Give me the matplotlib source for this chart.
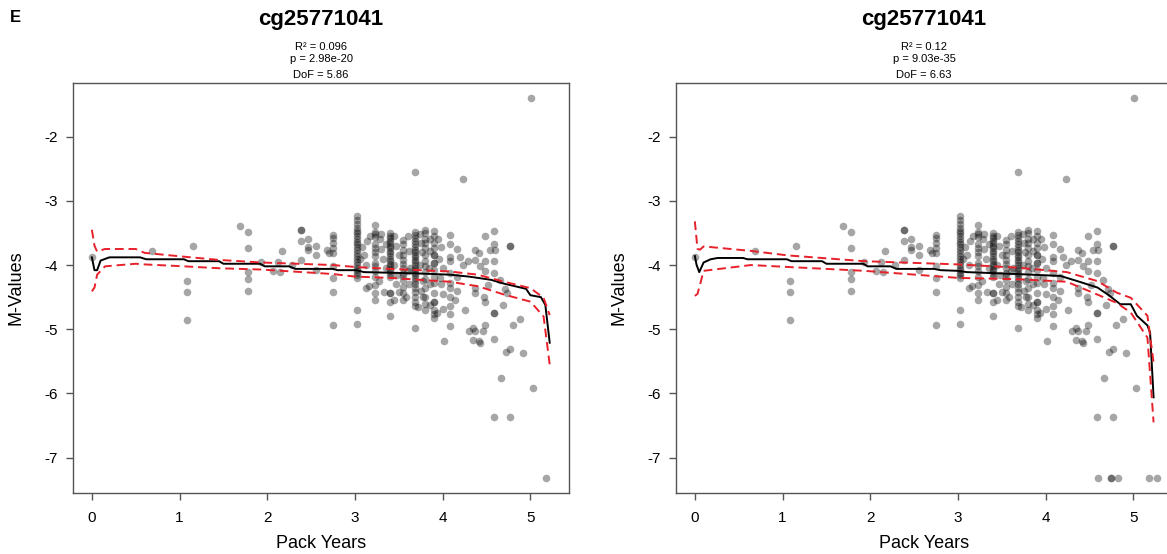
import matplotlib.pyplot as plt
import numpy as np

plt.rcParams['font.family'] = ['Liberation Sans', 'DejaVu Sans']
plt.rcParams['axes.unicode_minus'] = False

# titles / stats
probe = "cg25771041"
stats_left = ["R² = 0.096", "p = 2.98e-20", "DoF = 5.86"]
stats_right = ["R² = 0.12", "p = 9.03e-35", "DoF = 6.63"]

# dense columns of samples (log pack years)
col_x = [3.02, 3.23, 3.40, 3.55, 3.68, 3.80, 3.90, 4.08]
col_y = [
    [-3.24, -3.30, -3.36, -3.42, -3.47, -3.50, -3.55, -3.60, -3.64, -3.68, -3.72, -3.77,
     -3.82, -3.86, -3.90, -3.95, -4.00, -4.04, -4.08, -4.12, -4.16, -4.20, -4.70, -4.92],
    [-3.37, -3.48, -3.52, -3.56, -3.68, -3.74, -3.80, -3.86, -3.97, -4.02, -4.10, -4.18,
     -4.31, -4.44, -4.54],
    [-3.50, -3.54, -3.58, -3.62, -3.66, -3.70, -3.74, -3.78, -3.82, -3.86, -3.90, -3.94,
     -3.98, -4.02, -4.06, -4.10, -4.14, -4.18, -4.44, -4.44, -4.58, -4.79],
    [-3.61, -3.68, -3.76, -3.84, -3.92, -3.98, -4.05, -4.12, -4.17, -4.23, -4.34, -4.44, -4.54],
    [-2.55, -3.48, -3.53, -3.58, -3.63, -3.68, -3.72, -3.76, -3.80, -3.84, -3.88, -3.92,
     -3.96, -4.00, -4.04, -4.08, -4.12, -4.16, -4.20, -4.25, -4.30, -4.35, -4.42, -4.50,
     -4.57, -4.64, -4.98],
    [-3.45, -3.50, -3.60, -3.66, -3.74, -3.85, -3.94, -4.02, -4.11, -4.22, -4.35, -4.49,
     -4.60, -4.70],
    [-3.47, -3.55, -3.66, -3.74, -3.84, -3.84, -3.97, -3.97, -4.07, -4.18, -4.28, -4.44,
     -4.57, -4.57, -4.70, -4.77, -4.83],
    [-3.53, -3.68, -3.87, -3.94, -4.12, -4.28, -4.36, -4.49, -4.64, -4.77, -4.95],
]

# remaining scattered samples
other_x = [0.00, 0.68, 1.15, 1.08, 1.08, 1.08, 1.69, 1.78, 1.78, 1.78, 1.78, 1.78,
           1.93, 2.06, 2.12, 2.15, 2.17, 2.28, 2.38, 2.38, 2.38, 2.38, 2.46, 2.46, 2.46,
           2.55, 2.55, 2.55, 2.68, 2.70, 2.75, 2.75, 2.75, 2.75, 2.75, 2.75, 2.75, 2.75, 2.75,
           3.08, 3.10, 3.12, 3.12, 3.16, 3.17, 3.06, 3.14,
           3.28, 3.30, 3.32, 3.35, 3.33, 3.30, 3.35, 3.27,
           3.45, 3.47, 3.45, 3.48, 3.50, 3.47, 3.50, 3.44,
           3.60, 3.62, 3.60, 3.62, 3.63, 3.58,
           3.74, 3.75, 3.76, 3.74, 3.78, 3.75, 3.77, 3.72,
           3.85, 3.86, 3.84, 3.86, 3.85,
           3.95, 3.98, 3.96, 4.00, 3.97, 4.00, 3.98, 4.00, 4.01, 3.93,
           4.16, 4.16, 4.16, 4.14, 4.20, 4.23, 4.23, 4.25, 4.29, 4.30, 4.35, 4.37,
           4.37, 4.37, 4.37, 4.37, 4.35, 4.41, 4.43, 4.41, 4.42, 4.48, 4.48, 4.48,
           4.47, 4.48, 4.48, 4.58, 4.54, 4.58, 4.60, 4.58, 4.58, 4.58, 4.58, 4.58,
           4.46, 4.52, 4.73, 4.69, 4.77, 4.77, 4.80, 4.88, 4.66, 4.72, 4.77, 4.92,
           5.03, 4.58, 4.77, 5.18, 5.01, 4.65, 4.71]
other_y = [-3.87, -3.78, -3.71, -4.25, -4.42, -4.85, -3.39, -3.48, -3.73, -4.11, -4.21, -4.40,
           -3.96, -4.10, -3.95, -4.11, -3.78, -4.00, -3.45, -3.45, -3.62, -3.92, -3.59, -3.72, -3.77,
           -3.70, -3.84, -4.07, -3.76, -3.81, -3.53, -3.58, -3.66, -3.73, -3.81, -4.02, -4.20, -4.42, -4.93,
           -3.72, -3.85, -4.00, -4.35, -4.33, -3.55, -3.90, -3.62,
           -3.60, -3.75, -3.90, -4.05, -4.42, -3.52, -3.68, -4.25,
           -3.55, -3.70, -4.00, -4.15, -4.42, -4.30, -3.85, -4.55,
           -3.55, -3.78, -4.10, -4.30, -4.05, -4.50,
           -3.52, -3.65, -3.80, -4.00, -4.25, -4.40, -4.50, -4.65,
           -3.60, -3.78, -4.05, -4.30, -4.62,
           -3.60, -3.72, -3.90, -4.05, -4.20, -4.45, -4.30, -4.68, -5.18, -4.75,
           -3.75, -4.18, -4.41, -4.55, -3.87, -2.66, -4.00, -4.70, -3.94, -5.03, -4.98, -5.03,
           -3.76, -3.92, -4.36, -4.44, -5.16, -5.19, -5.21, -3.81, -4.02, -3.54, -3.94, -4.10,
           -4.49, -4.58, -4.94, -3.47, -3.77, -3.68, -3.76, -3.94, -4.12, -4.75, -4.75, -5.15,
           -5.03, -4.31, -4.44, -4.62, -3.71, -3.71, -4.94, -4.84, -5.76, -5.36, -5.31, -5.37,
           -5.92, -6.36, -6.36, -7.31, -1.40, -4.23, -4.38]

# samples only seen in the right-hand model
extra_right_x = [4.60, 4.74, 4.74, 4.82, 5.27]
extra_right_y = [-7.31, -7.31, -7.31, -7.31, -7.31]

# fitted curves and 95% bands
left_fit_x = [0.00, 0.03, 0.06, 0.10, 0.20, 0.55, 0.62, 1.05, 1.10, 1.45, 1.50, 1.92, 1.97,
              2.25, 2.32, 2.75, 2.80, 3.02, 3.10, 3.40, 3.70, 4.08, 4.30, 4.55, 4.70, 4.95,
              5.00, 5.12, 5.17, 5.22]
left_fit_y = [-3.88, -4.08, -4.08, -3.93, -3.88, -3.88, -3.91, -3.91, -3.94, -3.94, -3.98,
              -3.98, -4.02, -4.02, -4.06, -4.06, -4.08, -4.08, -4.11, -4.12, -4.13, -4.15,
              -4.18, -4.23, -4.29, -4.37, -4.47, -4.50, -4.62, -5.21]
left_band_x = [0.00, 0.03, 0.06, 0.15, 0.50, 0.60, 1.05, 1.45, 1.93, 2.75, 3.00, 3.40,
               4.08, 4.40, 4.70, 5.00, 5.15, 5.22]
left_upper = [-3.45, -3.70, -3.79, -3.75, -3.75, -3.81, -3.87, -3.92, -3.96, -4.00, -4.03,
              -4.06, -4.10, -4.15, -4.26, -4.36, -4.51, -4.78]
left_lower = [-4.41, -4.35, -4.15, -4.02, -3.98, -3.99, -4.02, -4.05, -4.07, -4.14, -4.18,
              -4.20, -4.26, -4.33, -4.46, -4.57, -4.80, -5.55]

right_fit_x = [0.00, 0.02, 0.05, 0.10, 0.18, 0.26, 0.55, 0.60, 1.05, 1.10, 1.45, 1.50, 1.92,
               1.97, 2.23, 2.30, 2.73, 2.80, 3.00, 3.10, 3.67, 4.17, 4.36, 4.59, 4.72, 4.85,
               4.97, 5.04, 5.16, 5.19, 5.23]
right_fit_y = [-3.86, -4.00, -4.11, -3.96, -3.91, -3.89, -3.89, -3.91, -3.91, -3.94, -3.94,
               -3.98, -3.98, -4.02, -4.02, -4.06, -4.06, -4.08, -4.09, -4.11, -4.14, -4.17,
               -4.25, -4.35, -4.47, -4.61, -4.61, -4.79, -4.94, -5.05, -6.06]
right_band_x = [0.00, 0.03, 0.06, 0.10, 0.64, 1.06, 1.93, 3.00, 3.67, 4.24, 4.59, 4.81,
                4.97, 5.16, 5.23]
right_upper = [-3.32, -3.75, -3.76, -3.71, -3.78, -3.85, -3.94, -3.99, -4.04, -4.11, -4.25,
               -4.43, -4.51, -4.79, -5.52]
right_lower = [-4.48, -4.45, -4.30, -4.09, -4.00, -4.03, -4.09, -4.20, -4.22, -4.26, -4.46,
               -4.59, -4.74, -5.13, -6.45]

# build the shared point cloud
pts_x = list(other_x)
pts_y = list(other_y)
for cx, ys in zip(col_x, col_y):
    pts_x += [cx] * len(ys)
    pts_y += ys

fig = plt.figure(figsize=(11.67, 5.54), dpi=100)


def panel(rect, px, py, fx, fy, bx, bu, bl, stats):
    ax = fig.add_axes(rect)
    ax.scatter(px, py, s=30, color='black', alpha=0.35, linewidths=0, zorder=2)
    ax.plot(fx, fy, color='black', lw=1.4, zorder=3)
    ax.plot(bx, bu, color='#e8202a', lw=1.4, ls=(0, (4.5, 2.5)), zorder=4)
    ax.plot(bx, bl, color='#e8202a', lw=1.4, ls=(0, (4.5, 2.5)), zorder=4)
    ax.set_xlim(-0.215, 5.44)
    ax.set_ylim(-7.55, -1.165)
    ax.set_xticks([0, 1, 2, 3, 4, 5])
    ax.set_yticks([-2, -3, -4, -5, -6, -7])
    for s in ax.spines.values():
        s.set_color('#555555')
        s.set_linewidth(1.0)
    ax.tick_params(length=5, width=1, color='#555555', labelsize=11, pad=6)
    ax.tick_params(axis='x', pad=8)
    ax.set_xlabel("Pack Years", fontsize=13, labelpad=7)
    ax.set_ylabel("M-Values", fontsize=13, labelpad=14)
    cx = rect[0] + rect[2] / 2
    fig.text(cx, 1 - 19 / 554, probe, ha='center', va='center', fontsize=16, fontweight='bold')
    fig.text(cx, 1 - 47 / 554, stats[0], ha='center', va='center', fontsize=8)
    fig.text(cx, 1 - 59 / 554, stats[1], ha='center', va='center', fontsize=8)
    fig.text(cx, 1 - 75 / 554, stats[2], ha='center', va='center', fontsize=8)
    return ax


panel([73 / 1167, 1 - 493 / 554, 496 / 1167, 410 / 554], pts_x, pts_y,
      left_fit_x, left_fit_y, left_band_x, left_upper, left_lower, stats_left)
panel([676 / 1167, 1 - 493 / 554, 496 / 1167, 410 / 554],
      pts_x + extra_right_x, pts_y + extra_right_y,
      right_fit_x, right_fit_y, right_band_x, right_upper, right_lower, stats_right)

fig.text(15 / 1167, 1 - 17 / 554, "E", ha='center', va='center', fontsize=12, fontweight='bold')

fig.savefig("out.png", dpi=100)
